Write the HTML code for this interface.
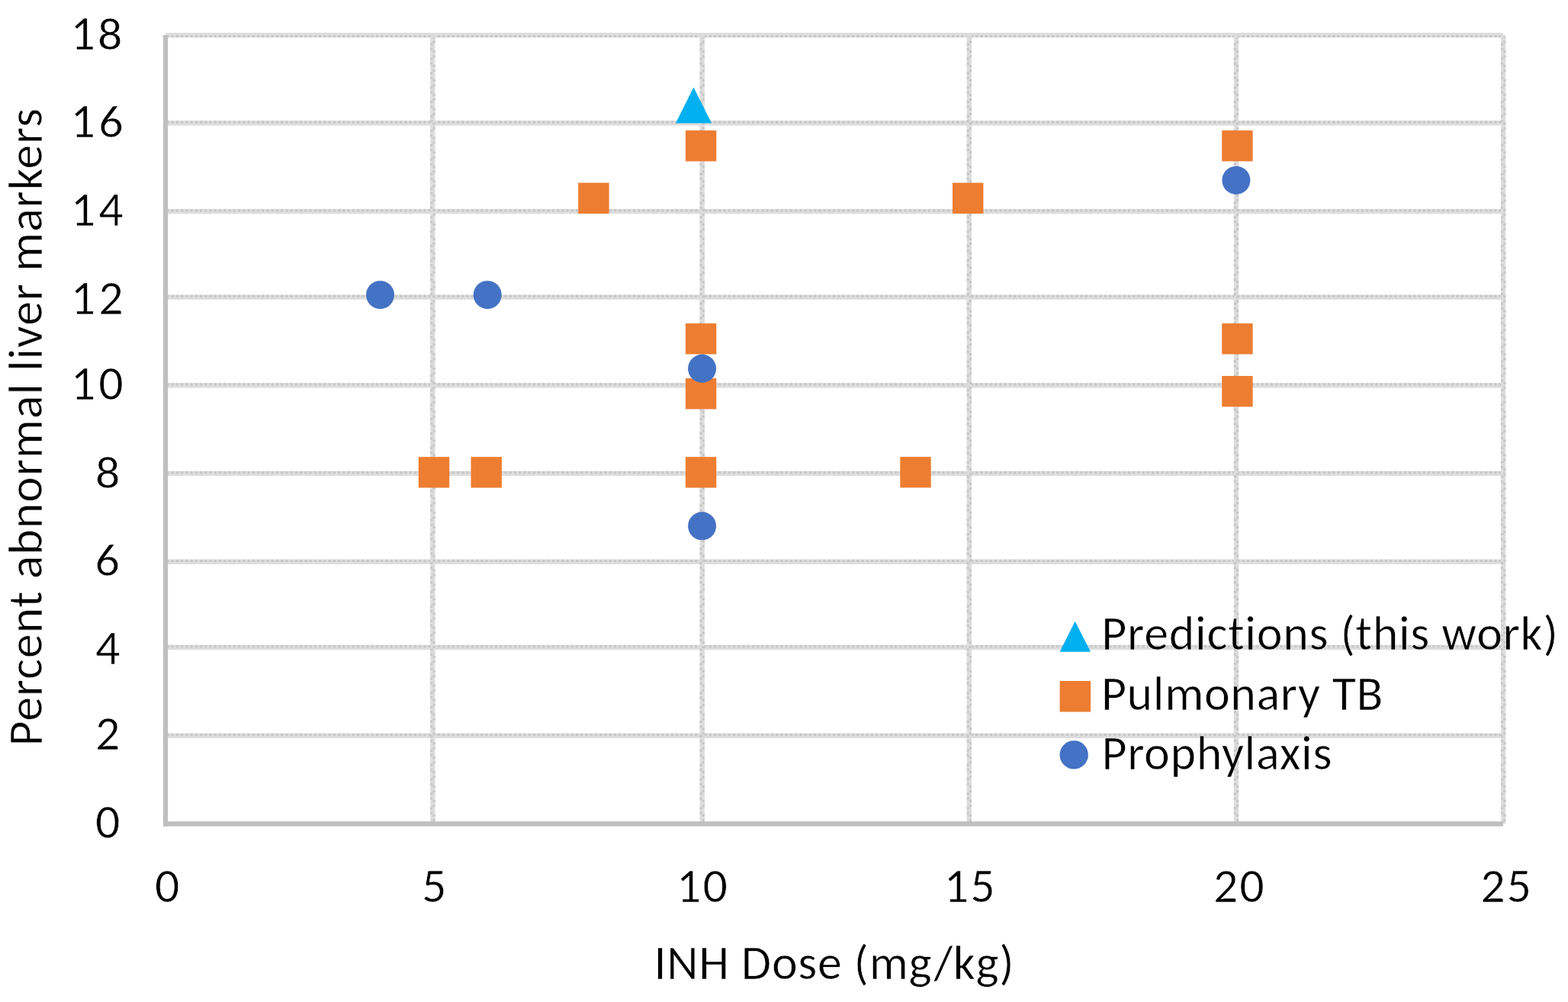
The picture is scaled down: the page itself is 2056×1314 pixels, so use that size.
<!DOCTYPE html>
<html>
<head>
<meta charset="utf-8">
<title>Percent abnormal liver markers vs INH Dose</title>
<style>
html,body{margin:0;padding:0;background:#fff;}
body{width:2056px;height:1314px;overflow:hidden;}
svg{display:block;}
text{font-family:"Carlito","Liberation Sans",sans-serif;fill:#000;stroke:#fff;stroke-width:0.6px;font-variant-ligatures:none;font-feature-settings:"liga" 0,"clig" 0;}
.tk{font-size:64px;letter-spacing:2px;}
.ti{font-size:64px;letter-spacing:0.65px;}
.lg{font-size:64px;letter-spacing:0.68px;}
.yt{letter-spacing:0.8px;}
.d2{letter-spacing:4px;}
</style>
</head>
<body>
<svg width="2056" height="1314" viewBox="0 0 2056 1314">
<rect x="0" y="0" width="2056" height="1314" fill="#fff"/>
<defs>
<pattern id="hd" patternUnits="userSpaceOnUse" x="0" y="0" width="6.24" height="40"><rect x="0" y="0" width="3.1" height="40" fill="#c6c6c6"/></pattern>
<pattern id="vd" patternUnits="userSpaceOnUse" x="0" y="0" width="40" height="18.9"><rect x="0" y="0" width="40" height="2.9" fill="#c6c6c6"/><rect x="0" y="6.3" width="40" height="2.9" fill="#c6c6c6"/></pattern>
<pattern id="vd2" patternUnits="userSpaceOnUse" x="0" y="9.45" width="40" height="18.9"><rect x="0" y="0" width="40" height="2.9" fill="#c6c6c6"/><rect x="0" y="6.3" width="40" height="2.9" fill="#c6c6c6"/></pattern>
</defs>
<!-- horizontal gridlines -->
<g>
<rect x="217" y="43.0" width="1754" height="3.1" fill="#dddddd"/>
<rect x="214" y="46.1" width="1760" height="3.1" fill="#dddddd"/>
<rect x="220" y="46.1" width="1748" height="3" fill="url(#hd)"/>
<rect x="217" y="158.2" width="1757" height="6.4" fill="#dddddd"/>
<rect x="217" y="158.5" width="1757" height="3.2" fill="url(#hd)"/>
<rect x="217" y="274.0" width="1757" height="6.4" fill="#dddddd"/>
<rect x="217" y="274.3" width="1757" height="3.2" fill="url(#hd)"/>
<rect x="217" y="386.5" width="1757" height="6.4" fill="#dddddd"/>
<rect x="217" y="386.8" width="1757" height="3.2" fill="url(#hd)"/>
<rect x="217" y="502.2" width="1757" height="6.4" fill="#dddddd"/>
<rect x="217" y="502.5" width="1757" height="3.2" fill="url(#hd)"/>
<rect x="217" y="617.7" width="1757" height="6.4" fill="#dddddd"/>
<rect x="217" y="618.0" width="1757" height="3.2" fill="url(#hd)"/>
<rect x="217" y="733.5" width="1757" height="6.4" fill="#dddddd"/>
<rect x="217" y="733.8" width="1757" height="3.2" fill="url(#hd)"/>
<rect x="217" y="845.7" width="1757" height="6.4" fill="#dddddd"/>
<rect x="217" y="846.0" width="1757" height="3.2" fill="url(#hd)"/>
<rect x="217" y="961.6" width="1757" height="6.4" fill="#dddddd"/>
<rect x="217" y="961.9" width="1757" height="3.2" fill="url(#hd)"/>
</g>
<!-- vertical gridlines -->
<g>
<rect x="564.2" y="43" width="6.4" height="1037" fill="#dddddd"/>
<rect x="564.2" y="49.2" width="3.2" height="1028" fill="url(#vd)"/>
<rect x="567.4" y="49.2" width="3.2" height="1028" fill="url(#vd2)"/>
<rect x="917.5" y="43" width="6.4" height="1037" fill="#dddddd"/>
<rect x="917.5" y="49.2" width="3.2" height="1028" fill="url(#vd)"/>
<rect x="920.7" y="49.2" width="3.2" height="1028" fill="url(#vd2)"/>
<rect x="1267.6" y="43" width="6.4" height="1037" fill="#dddddd"/>
<rect x="1267.6" y="49.2" width="3.2" height="1028" fill="url(#vd)"/>
<rect x="1270.8" y="49.2" width="3.2" height="1028" fill="url(#vd2)"/>
<rect x="1617.8" y="43" width="6.4" height="1037" fill="#dddddd"/>
<rect x="1617.8" y="49.2" width="3.2" height="1028" fill="url(#vd)"/>
<rect x="1621.0" y="49.2" width="3.2" height="1028" fill="url(#vd2)"/>
<rect x="1968.0" y="46" width="6.4" height="1034.5" fill="#dddddd"/>
<rect x="1968.0" y="49" width="3.2" height="1028" fill="url(#vd)"/>
<rect x="1971.2" y="49" width="3.2" height="1031" fill="url(#vd2)"/>
</g>
<!-- axes -->
<rect x="214" y="46" width="6.2" height="1037.7" fill="#bfbfbf"/>
<rect x="214" y="1077.2" width="1757" height="6.4" fill="#bfbfbf"/>

<!-- y tick labels -->
<g class="tk" text-anchor="end">
<text x="92.6" y="64.6" text-anchor="start">1</text><text transform="translate(128,64.6) scale(1,0.935)" text-anchor="start">8</text>
<text x="92.6" y="180.3" text-anchor="start">1</text><text transform="translate(129.3,180.3) scale(1,0.935)" text-anchor="start">6</text>
<text x="165.7" y="295.6" class="d2">14</text>
<text x="165.7" y="411.5" class="d2">12</text>
<text x="165.7" y="524.1" class="d2">10</text>
<text transform="translate(124.9,639.8) scale(1,0.935)" text-anchor="start">8</text>
<text transform="translate(124.6,754.8) scale(1,0.935)" text-anchor="start">6</text>
<text x="159.5" y="870.7">4</text>
<text x="159.5" y="983.1">2</text>
<text x="159.5" y="1098.9">0</text>
</g>
<!-- x tick labels -->
<g class="tk" text-anchor="middle">
<text x="220.25" y="1183.3">0</text>
<text x="570.1" y="1183.3">5</text>
<text x="921.55" y="1183.3">10</text>
<text x="1272.25" y="1183.3">15</text>
<text x="1625.35" y="1183.3">20</text>
<text x="1975.6" y="1183.3">25</text>
</g>
<!-- axis titles -->
<text class="ti" x="857.5" y="1283.5" textLength="472.906" lengthAdjust="spacingAndGlyphs">INH Dose (mg/kg)</text>
<text class="ti yt" transform="translate(54.8,978.4) rotate(-90)" x="0" y="0"  textLength="837.156" lengthAdjust="spacingAndGlyphs">Percent abnormal liver markers</text>

<!-- series: Predictions (triangle) -->
<polygon points="909.5,114.6 933,161.6 886,161.6" fill="#00b0f0"/>
<!-- series: Pulmonary TB (squares) -->
<g fill="#ed7d31">
<rect x="548.8" y="599.2" width="40.4" height="40.4"/>
<rect x="617.5" y="599.2" width="40.4" height="40.4"/>
<rect x="758.2" y="239.7" width="40.4" height="40.4"/>
<rect x="898.9" y="171.1" width="40.4" height="40.4"/>
<rect x="898.9" y="424.1" width="40.4" height="40.4"/>
<rect x="898.9" y="496.1" width="40.4" height="40.4"/>
<rect x="898.9" y="599.2" width="40.4" height="40.4"/>
<rect x="1180.3" y="599.1" width="40.4" height="40.4"/>
<rect x="1249" y="239.7" width="40.4" height="40.4"/>
<rect x="1602.2" y="171.1" width="40.4" height="40.4"/>
<rect x="1602.2" y="424.1" width="40.4" height="40.4"/>
<rect x="1602.2" y="493" width="40.4" height="40.4"/>
</g>
<!-- series: Prophylaxis (circles) -->
<g fill="#4472c4">
<circle cx="498.5" cy="386.7" r="18.5"/>
<circle cx="639.2" cy="386.7" r="18.5"/>
<circle cx="920.6" cy="483.3" r="18.5"/>
<circle cx="920.6" cy="689.8" r="18.5"/>
<circle cx="1620.9" cy="236.4" r="18.5"/>
</g>

<!-- legend -->
<polygon points="1409.6,814.8 1430.1,854.8 1389.6,854.8" fill="#00b0f0"/>
<text class="lg" x="1444.2" y="852.2" textLength="599.328" lengthAdjust="spacingAndGlyphs" style="letter-spacing:0.70px">Predictions (this work)</text>
<rect x="1389.6" y="893" width="40.5" height="40.5" fill="#ed7d31"/>
<text class="lg" x="1443.9" y="930.5" textLength="370.141" lengthAdjust="spacingAndGlyphs" style="letter-spacing:0.63px">Pulmonary TB</text>
<circle cx="1408.2" cy="989.9" r="18.7" fill="#4472c4"/>
<text class="lg" x="1444.4" y="1008.8" textLength="302.813" lengthAdjust="spacingAndGlyphs">Prophylaxis</text>
</svg>
</body>
</html>
